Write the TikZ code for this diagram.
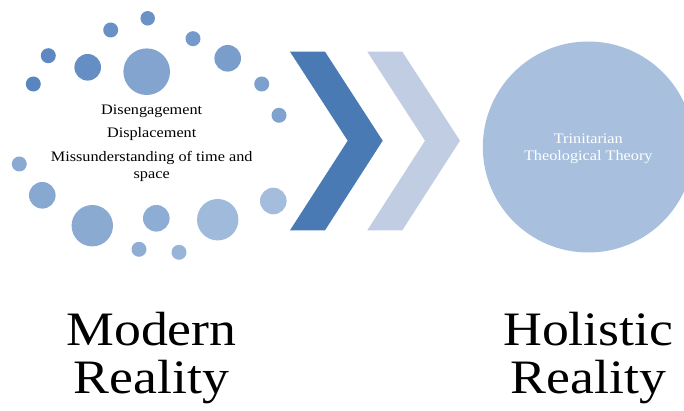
\documentclass[tikz,border=0pt]{standalone}
\usepackage{fontspec}
\newfontfamily\diagfont{Liberation Serif}[FakeStretch=1.12]
\usepackage{tikz}
\usetikzlibrary{shapes}
\usetikzlibrary{positioning}
\definecolor{bubdark}{HTML}{5A86C0}
\definecolor{bublight}{HTML}{A6BFDD}
\definecolor{chevdark}{HTML}{4A7AB4}
\definecolor{chevlight}{HTML}{C1CDE2}
\definecolor{wholefill}{HTML}{A8C0DE}
\tikzstyle{bubble}=[circle,inner sep=0pt,outer sep=0pt]
\tikzstyle{whole}=[circle,inner sep=0pt,fill=wholefill,minimum size=211pt]
\tikzstyle{biglabel}=[align=center,anchor=base,inner sep=0pt,
font=\diagfont\fontsize{48}{48.3}\selectfont]
\tikzstyle{smalltext}=[align=center,anchor=base,inner sep=0pt,
font=\diagfont\fontsize{14.5}{17}\selectfont]

\begin{document}
\begin{tikzpicture}[x=1pt,y=-1pt]
\useasboundingbox (0,0) rectangle (684,411);
\clip (0,0) rectangle (684,411);
%bulles
\foreach \bx/\by/\bd/\bp [count=\i] in {
147.7/18.3/14.5/79, 110.7/30/15/80, 193/38.7/15/66, 48.3/55.7/15/96,
87.7/67.3/26.6/86, 146.7/71.7/46.6/47, 227.7/58.3/26.6/58, 33.3/84/15/100,
261.7/84/15/54, 279/115.3/15/50, 19.3/164/15/37, 42.3/195.3/26.6/41,
92.3/225.7/41.4/37, 156.3/218.3/26.6/32, 217.7/219.7/41.4/8, 273.3/201/26.6/3,
139/249.3/15/29, 179/252.3/15/18}
  \node[bubble,fill=bubdark!\bp!bublight,minimum size=\bd pt] (b\i) at (\bx,\by) {};
%textes (base = last line)
\node[smalltext] (crisis) at (151.7,178.3)
  {Disengagement\\[6.3pt]Displacement\\[6.3pt]Missunderstanding of time and\\space};
%chevrons
\fill[chevdark] (290,51.7) -- (325,51.7) -- (382.7,140.7) -- (325,230.3)
  -- (290,230.3) -- (347.7,140.7) -- cycle;
\fill[chevlight] (367.3,51.7) -- (402.3,51.7) -- (460,140.7) -- (402.3,230.3)
  -- (367.3,230.3) -- (425,140.7) -- cycle;
\node[whole] (holism) at (588.3,147) {};
\node[smalltext,text=white] (theory) at (588.3,161) {Trinitarian\\Theological Theory};
\node[biglabel] (modern) at (151.5,393.3) {Modern\\Reality};
\node[biglabel] (holistic) at (588.3,393.3) {Holistic\\Reality};
\end{tikzpicture}
\end{document}
